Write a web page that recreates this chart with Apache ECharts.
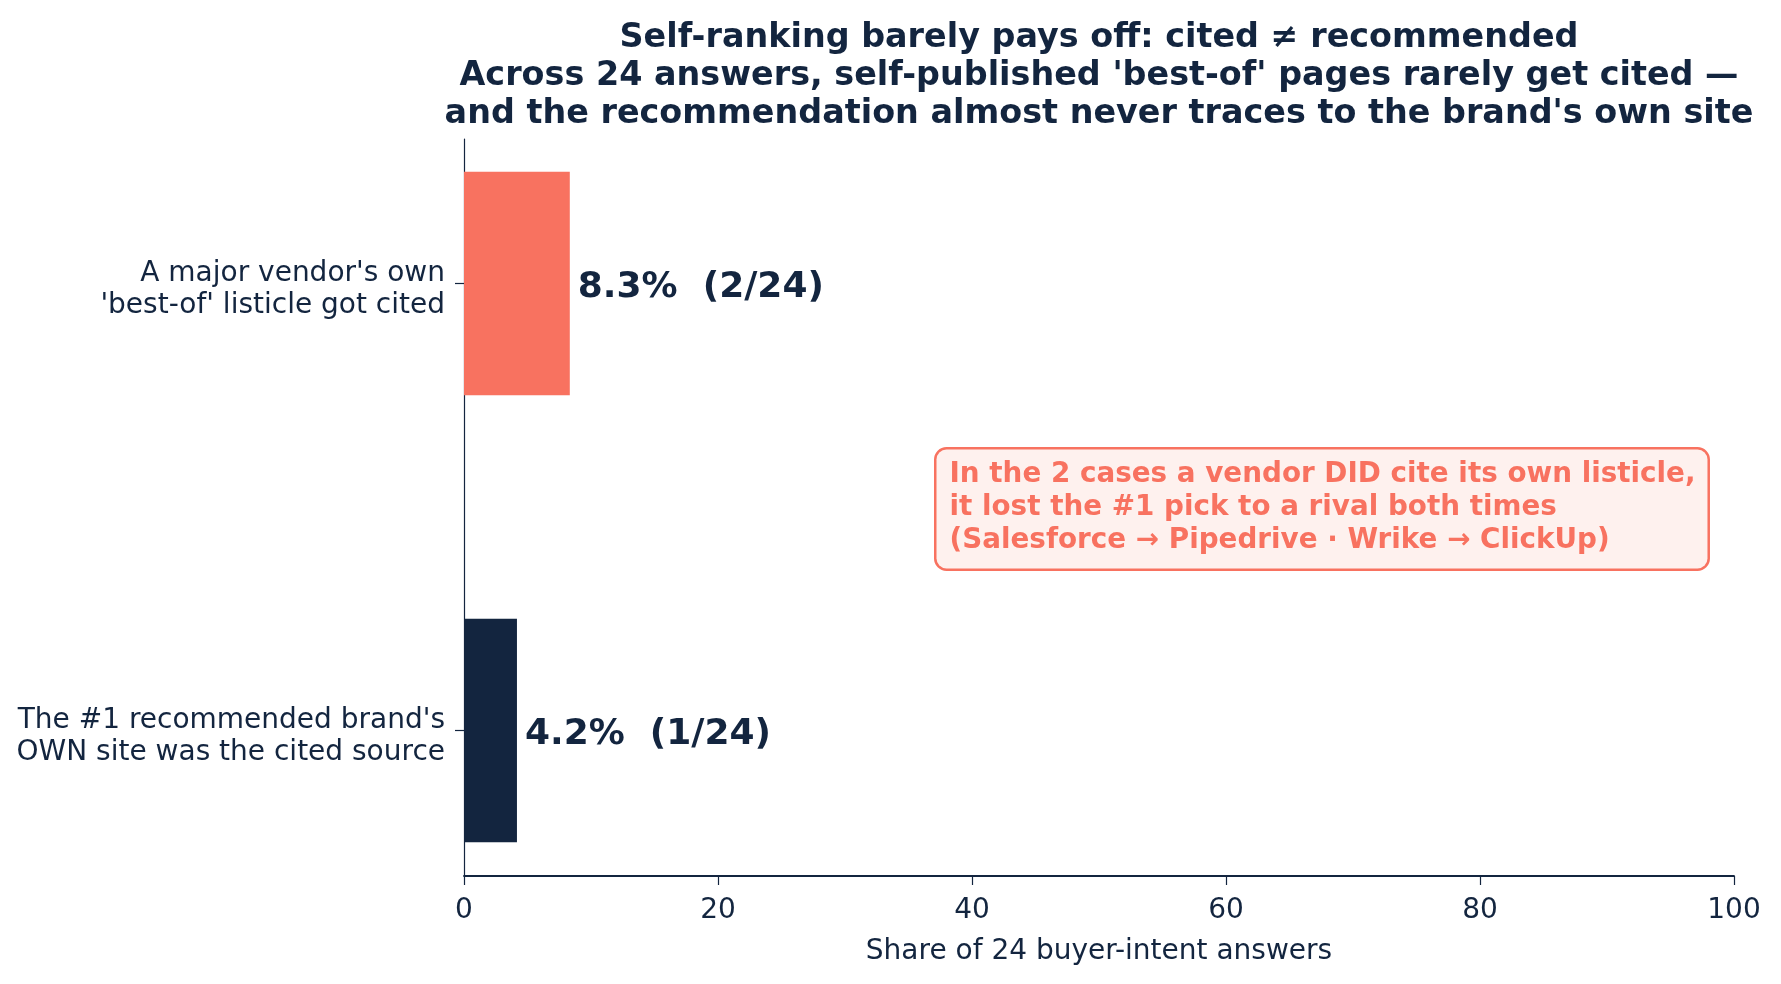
<!DOCTYPE html>
<html>
<head>
<meta charset="utf-8">
<script src="https://cdn.jsdelivr.net/npm/echarts@6/dist/echarts.min.js"></script>
<style>
  html, body { margin: 0; padding: 0; background: #fff; }
  #chart { width: 1781px; height: 984px; }
</style>
</head>
<body>
<div id="chart"></div>
<script>
(function () {

    var NAVY = '#13253F';
    var CORAL = '#F87260';
    var FONT = 'DejaVu Sans';

    // bottom to top, like the source
    var categories = [
        "The #1 recommended brand's\nOWN site was the cited source",
        "A major vendor's own\n'best-of' listicle got cited"
    ];
    var shares = [4.17, 8.33];
    var counts = [1, 2];
    var totalAnswers = 24;
    var barColors = [NAVY, CORAL];
    var xTicks = [0, 20, 40, 60, 80, 100];

    var titleText = 'Self-ranking barely pays off: cited \u2260 recommended\n' +
        "Across 24 answers, self-published 'best-of' pages rarely get cited \u2014\n" +
        "and the recommendation almost never traces to the brand's own site";
    var noteText = 'In the 2 cases a vendor DID cite its own listicle,\n' +
        'it lost the #1 pick to a rival both times\n' +
        '(Salesforce \u2192 Pipedrive \u00b7 Wrike \u2192 ClickUp)';

    var chart = echarts.init(document.getElementById('chart'));

    chart.setOption({
        backgroundColor: '#ffffff',
        animation: false,
        textStyle: { fontFamily: FONT },
        title: {
            text: titleText,
            left: 1094, top: 14, textAlign: 'center',
            textStyle: { fontFamily: FONT, fontSize: 33.4, fontWeight: 'bold', color: NAVY, lineHeight: 38 }
        },
        grid: [
            // bars + category labels, bands sized to the source spacing
            { left: 464, right: 47, top: 60, height: 894 },
            // visible frame: bottom axis and left spine
            { left: 464, right: 47, top: 139, bottom: 108 }
        ],
        xAxis: [
            { gridIndex: 0, type: 'value', min: 0, max: 100, show: false },
            { gridIndex: 1, type: 'value', min: 0, max: 100, interval: 20,
              axisLine: { show: true, lineStyle: { color: NAVY, width: 1.8 } },
              axisTick: { show: true, length: 9, lineStyle: { color: NAVY, width: 1.2 } },
              axisLabel: { color: NAVY, fontSize: 28, margin: 21,
                           formatter: function (v) { return xTicks.indexOf(v) >= 0 ? String(v) : ''; } },
              splitLine: { show: false },
              name: 'Share of 24 buyer-intent answers',
              nameLocation: 'middle', nameGap: 62,
              nameTextStyle: { color: NAVY, fontSize: 28 } }
        ],
        yAxis: [
            { gridIndex: 0, type: 'category', data: categories,
              axisLine: { show: false },
              axisTick: { show: true, alignWithLabel: true, length: 9, lineStyle: { color: NAVY, width: 1.2 } },
              axisLabel: {
                  color: NAVY, margin: 19, align: 'right',
                  // small spacer line on top pushes the two text lines down a bit, as in the source
                  formatter: function (v) {
                      return '{s| }\n{t|' + v.split('\n').join('}\n{t|') + '}';
                  },
                  rich: {
                      s: { fontSize: 1, lineHeight: 12 },
                      t: { fontSize: 28, lineHeight: 32, color: NAVY, fontFamily: FONT, align: 'right' }
                  }
              } },
            { gridIndex: 1, type: 'value', min: 0, max: 1,
              axisLine: { show: true, lineStyle: { color: NAVY, width: 1.2 } },
              axisTick: { show: false }, axisLabel: { show: false }, splitLine: { show: false } }
        ],
        series: [{
            type: 'bar',
            xAxisIndex: 0, yAxisIndex: 0,
            barWidth: '50%',
            data: shares.map(function (v, i) {
                return { value: v, itemStyle: { color: barColors[i] } };
            }),
            label: {
                show: true, position: 'right', distance: 8, offset: [0, 4],
                color: NAVY, fontSize: 36, fontWeight: 'bold', fontFamily: FONT,
                formatter: function (p) {
                    return p.value.toFixed(1) + '%  (' + counts[p.dataIndex] + '/' + totalAnswers + ')';
                }
            }
        }],
        graphic: [{
            type: 'text',
            left: 934, top: 447,
            style: {
                text: noteText,
                fill: CORAL,
                font: 'bold 27.8px "DejaVu Sans"',
                lineHeight: 33,
                backgroundColor: '#FEF1EE',
                borderColor: CORAL,
                borderWidth: 2.5,
                borderRadius: 10,
                padding: [9, 12, 11, 13]
            }
        }]
    });

})();
</script>
</body>
</html>
